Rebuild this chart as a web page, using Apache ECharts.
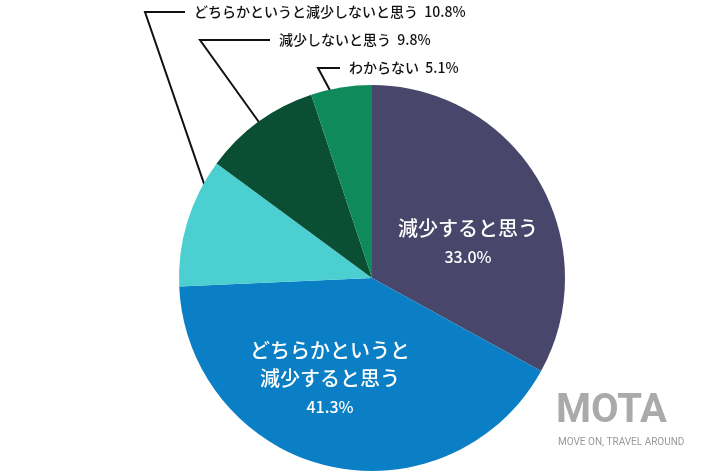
<!DOCTYPE html>
<html>
<head>
<meta charset="utf-8">
<script src="https://cdn.jsdelivr.net/npm/echarts@6/dist/echarts.min.js"></script>
<style>html,body{margin:0;padding:0;background:#fff}#c{width:710px;height:473px}</style>
</head>
<body>
<div id="c"></div>
<script>
// 回答の分類と割合
const categories = ['減少すると思う', 'どちらかというと\n減少すると思う', 'どちらかというと減少しないと思う', '減少しないと思う', 'わからない'];
const values = [33.0, 41.3, 10.8, 9.8, 5.1];
const colors = ['#48466b', '#0b7fc5', '#4bcfd0', '#0a4f34', '#0f8a5b'];

// ラベル位置 (x, y) と引き出し線の折れ点の x
const labelPos = [[468, 243], [330, 379], [185, 12], [270, 40], [340, 68]];
const lineCorner = [0, 0, 145, 200, 318];

const cx = 372, cy = 278, R = 193;
const total = values.reduce((a, b) => a + b, 0);

// 扇形の中央角から線の始点を求める
function sliceAnchor(i) {
    let before = 0;
    for (let k = 0; k < i; k++) before += values[k];
    const a = (before + values[i] / 2) / total * Math.PI * 2;
    return [cx + Math.sin(a) * R * 0.82, cy - Math.cos(a) * R * 0.82];
}

const chart = echarts.init(document.getElementById('c'));

chart.setOption({
    animation: false,
    color: colors,
    textStyle: {fontFamily: 'Noto Sans CJK JP'},
    series: [{
        type: 'pie',
        center: [cx, cy],
        radius: R,
        startAngle: 90,
        clockwise: true,
        data: categories.map((n, i) => {
            const inside = i < 2;
            return {
                name: n,
                value: values[i],
                label: inside ? {
                    position: 'inside',
                    formatter: '{b}\n{c|' + values[i].toFixed(1) + '%}',
                    color: '#fff',
                    fontSize: 20,
                    fontWeight: 500,
                    lineHeight: 28,
                    rich: {c: {color: '#fff', fontSize: 16, lineHeight: 30}}
                } : {
                    position: 'outside',
                    formatter: '{b}  ' + values[i].toFixed(1) + '%',
                    color: '#111',
                    fontSize: 14,
                    fontWeight: 500,
                    overflow: 'none',
                    width: 400,
                    padding: [0, 0, 0, 9]
                },
                labelLine: {show: !inside, lineStyle: {color: '#111', width: 2}}
            };
        }),
        labelLayout: function (p) {
            const i = p.dataIndex;
            const pos = labelPos[i];
            if (i < 2) {
                return {x: pos[0], y: pos[1], align: 'center', verticalAlign: 'middle'};
            }
            return {
                x: pos[0], y: pos[1], align: 'left', verticalAlign: 'middle',
                labelLinePoints: [sliceAnchor(i), [lineCorner[i], pos[1]], [pos[0], pos[1]]]
            };
        }
    }],
    graphic: [
        {type: 'text', left: 556, top: 392, style: {text: 'MOTA', fontSize: 40, fontWeight: 'bold', fill: '#aaa', fontFamily: 'Roboto'}},
        {type: 'text', left: 558, top: 437, style: {text: 'MOVE ON, TRAVEL AROUND', fontSize: 10, fill: '#999', fontFamily: 'Roboto'}}
    ]
});
</script>
</body>
</html>
